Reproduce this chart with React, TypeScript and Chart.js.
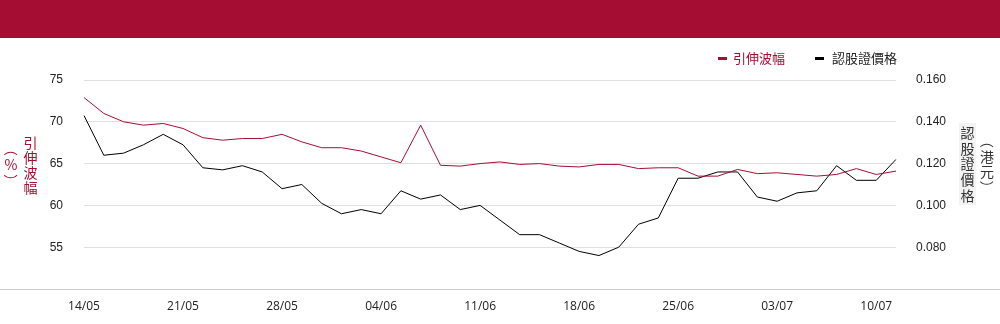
import React, { useEffect, useRef } from "react";
import { Chart, registerables } from "chart.js";

Chart.register(...registerables);

const dates = [
  "14/05", "15/05", "16/05", "17/05", "20/05", "21/05", "22/05", "23/05", "24/05", "27/05",
  "28/05", "29/05", "30/05", "31/05", "03/06", "04/06", "05/06", "06/06", "07/06", "10/06",
  "11/06", "12/06", "13/06", "14/06", "17/06", "18/06", "19/06", "20/06", "21/06", "24/06",
  "25/06", "26/06", "27/06", "28/06", "02/07", "03/07", "04/07", "05/07", "08/07", "09/07",
  "10/07", "11/07",
];

const impliedVol = [
  72.9, 71.0, 70.0, 69.6, 69.8, 69.2, 68.1, 67.8, 68.0, 68.0,
  68.5, 67.6, 66.9, 66.9, 66.5, 65.8, 65.1, 69.6, 64.8, 64.7,
  65.0, 65.2, 64.9, 65.0, 64.7, 64.6, 64.9, 64.9, 64.4, 64.5,
  64.5, 63.5, 63.5, 64.3, 63.8, 63.9, 63.7, 63.5, 63.7, 64.4,
  63.7, 64.1,
];

const warrantPrice = [
  0.143, 0.124, 0.125, 0.129, 0.134, 0.129, 0.118, 0.117, 0.119, 0.116,
  0.108, 0.110, 0.101, 0.096, 0.098, 0.096, 0.107, 0.103, 0.105, 0.098,
  0.100, 0.093, 0.086, 0.086, 0.082, 0.078, 0.076, 0.080, 0.091, 0.094,
  0.113, 0.113, 0.116, 0.116, 0.104, 0.102, 0.106, 0.107, 0.119, 0.112,
  0.112, 0.122,
];

const volLabel = "引伸波幅";
const priceLabel = "認股證價格";
const leftTitleMain = "引伸波幅";
const leftTitleUnit = "（%）";
const rightTitleMain = "認股證價格";
const rightTitleUnit = "（港元）";

const RED = "#A50E32";
const CJK = "'Noto Sans CJK TC', 'Noto Sans', sans-serif";
const TICK_FONT = "'Liberation Sans', Arial, sans-serif";

function drawVertical(ctx: CanvasRenderingContext2D, text: string, cx: number, y0: number, step: number) {
  const chars = Array.from(text);
  chars.forEach((ch, i) => {
    const y = y0 + i * step;
    if (ch === "（" || ch === "）" || ch === "(" || ch === ")") {
      ctx.save();
      ctx.translate(cx, y);
      ctx.rotate(Math.PI / 2);
      ctx.fillText(ch, 0, 0);
      ctx.restore();
    } else {
      ctx.fillText(ch, cx, y);
    }
  });
}

const decorPlugin = {
  id: "decor",
  beforeDraw(chart: any) {
    const ctx = chart.ctx as CanvasRenderingContext2D;
    ctx.save();
    ctx.fillStyle = "#ffffff";
    ctx.fillRect(0, 0, chart.width, chart.height);
    ctx.fillStyle = RED;
    ctx.fillRect(0, 0, chart.width, 38);
    ctx.restore();
  },
  afterDraw(chart: any) {
    const ctx = chart.ctx as CanvasRenderingContext2D;
    const area = chart.chartArea;
    ctx.save();
    // full-width baseline
    ctx.strokeStyle = "#cccccc";
    ctx.lineWidth = 1;
    ctx.beginPath();
    ctx.moveTo(0, Math.round(area.bottom) + 0.5);
    ctx.lineTo(chart.width, Math.round(area.bottom) + 0.5);
    ctx.stroke();

    // legend
    ctx.textBaseline = "middle";
    ctx.textAlign = "left";
    ctx.font = `13px ${CJK}`;
    ctx.fillStyle = RED;
    ctx.fillRect(718, 57, 9, 3);
    ctx.fillText(volLabel, 733, 58);
    ctx.fillStyle = "#000000";
    ctx.fillRect(815, 57, 9, 3);
    ctx.fillStyle = "#222222";
    ctx.fillText(priceLabel, 832, 58);

    // left axis title (vertical)
    ctx.textAlign = "center";
    ctx.font = `14px ${CJK}`;
    ctx.fillStyle = RED;
    drawVertical(ctx, leftTitleMain, 30.5, 142.5, 15);
    drawVertical(ctx, leftTitleUnit, 11, 149, 16);

    // right axis title (vertical)
    ctx.fillStyle = "#f3f3f3";
    ctx.fillRect(959, 123, 17, 82);
    ctx.fillStyle = "#333333";
    drawVertical(ctx, rightTitleMain, 967.5, 132.8, 15.6);
    drawVertical(ctx, rightTitleUnit, 987, 141, 15.5);
    ctx.restore();
  },
};

export default function App() {
  const canvasRef = useRef<HTMLCanvasElement | null>(null);

  useEffect(() => {
    document.body.style.margin = "0";
    const canvas = canvasRef.current;
    if (!canvas) return;
    const chart = new Chart(canvas, {
      type: "line",
      data: {
        labels: dates,
        datasets: [
          {
            label: volLabel,
            data: impliedVol,
            yAxisID: "yVol",
            borderColor: RED,
            backgroundColor: RED,
            borderWidth: 1,
            pointRadius: 0,
            tension: 0,
            fill: false,
          },
          {
            label: priceLabel,
            data: warrantPrice,
            yAxisID: "yPrice",
            borderColor: "#000000",
            backgroundColor: "#000000",
            borderWidth: 1,
            pointRadius: 0,
            tension: 0,
            fill: false,
          },
        ],
      },
      options: {
        responsive: false,
        animation: false,
        devicePixelRatio: 1,
        layout: { padding: { top: 80, left: 0, right: 0, bottom: 0 } },
        plugins: {
          legend: { display: false },
          tooltip: { enabled: false },
        },
        scales: {
          x: {
            offset: false,
            grid: { display: false, drawTicks: false },
            border: { display: false },
            ticks: {
              autoSkip: false,
              maxRotation: 0,
              minRotation: 0,
              padding: 10,
              color: "#222222",
              font: { family: "'Open Sans', sans-serif", size: 12 },
              callback: (_v: any, i: number) => (i % 5 === 0 ? dates[i] : ""),
            },
            afterFit: (s: any) => {
              s.height = 35;
            },
          },
          yVol: {
            type: "linear",
            position: "left",
            min: 50,
            max: 75,
            grid: {
              color: (c: any) => (c.tick && c.tick.value === 50 ? "rgba(0,0,0,0)" : "#e0e0e0"),
              drawTicks: false,
              lineWidth: 1,
            },
            border: { display: false },
            ticks: {
              stepSize: 5,
              padding: 21,
              color: "#222222",
              font: { family: TICK_FONT, size: 12 },
              callback: (v: any) => (v === 50 ? "" : String(v)),
            },
            afterFit: (s: any) => {
              s.width = 84;
            },
          },
          yPrice: {
            type: "linear",
            position: "right",
            min: 0.06,
            max: 0.16,
            grid: { display: false, drawTicks: false },
            border: { display: false },
            ticks: {
              stepSize: 0.02,
              padding: 20,
              color: "#222222",
              font: { family: TICK_FONT, size: 12 },
              callback: (v: any) => (Math.abs(v - 0.06) < 1e-9 ? "" : Number(v).toFixed(3)),
            },
            afterFit: (s: any) => {
              s.width = 104;
            },
          },
        },
      },
      plugins: [decorPlugin],
    });
    return () => {
      chart.destroy();
    };
  }, []);

  return (
    <div style={{ width: 1000, height: 324, position: "relative" }}>
      <canvas ref={canvasRef} width={1000} height={324} style={{ display: "block" }} />
    </div>
  );
}
